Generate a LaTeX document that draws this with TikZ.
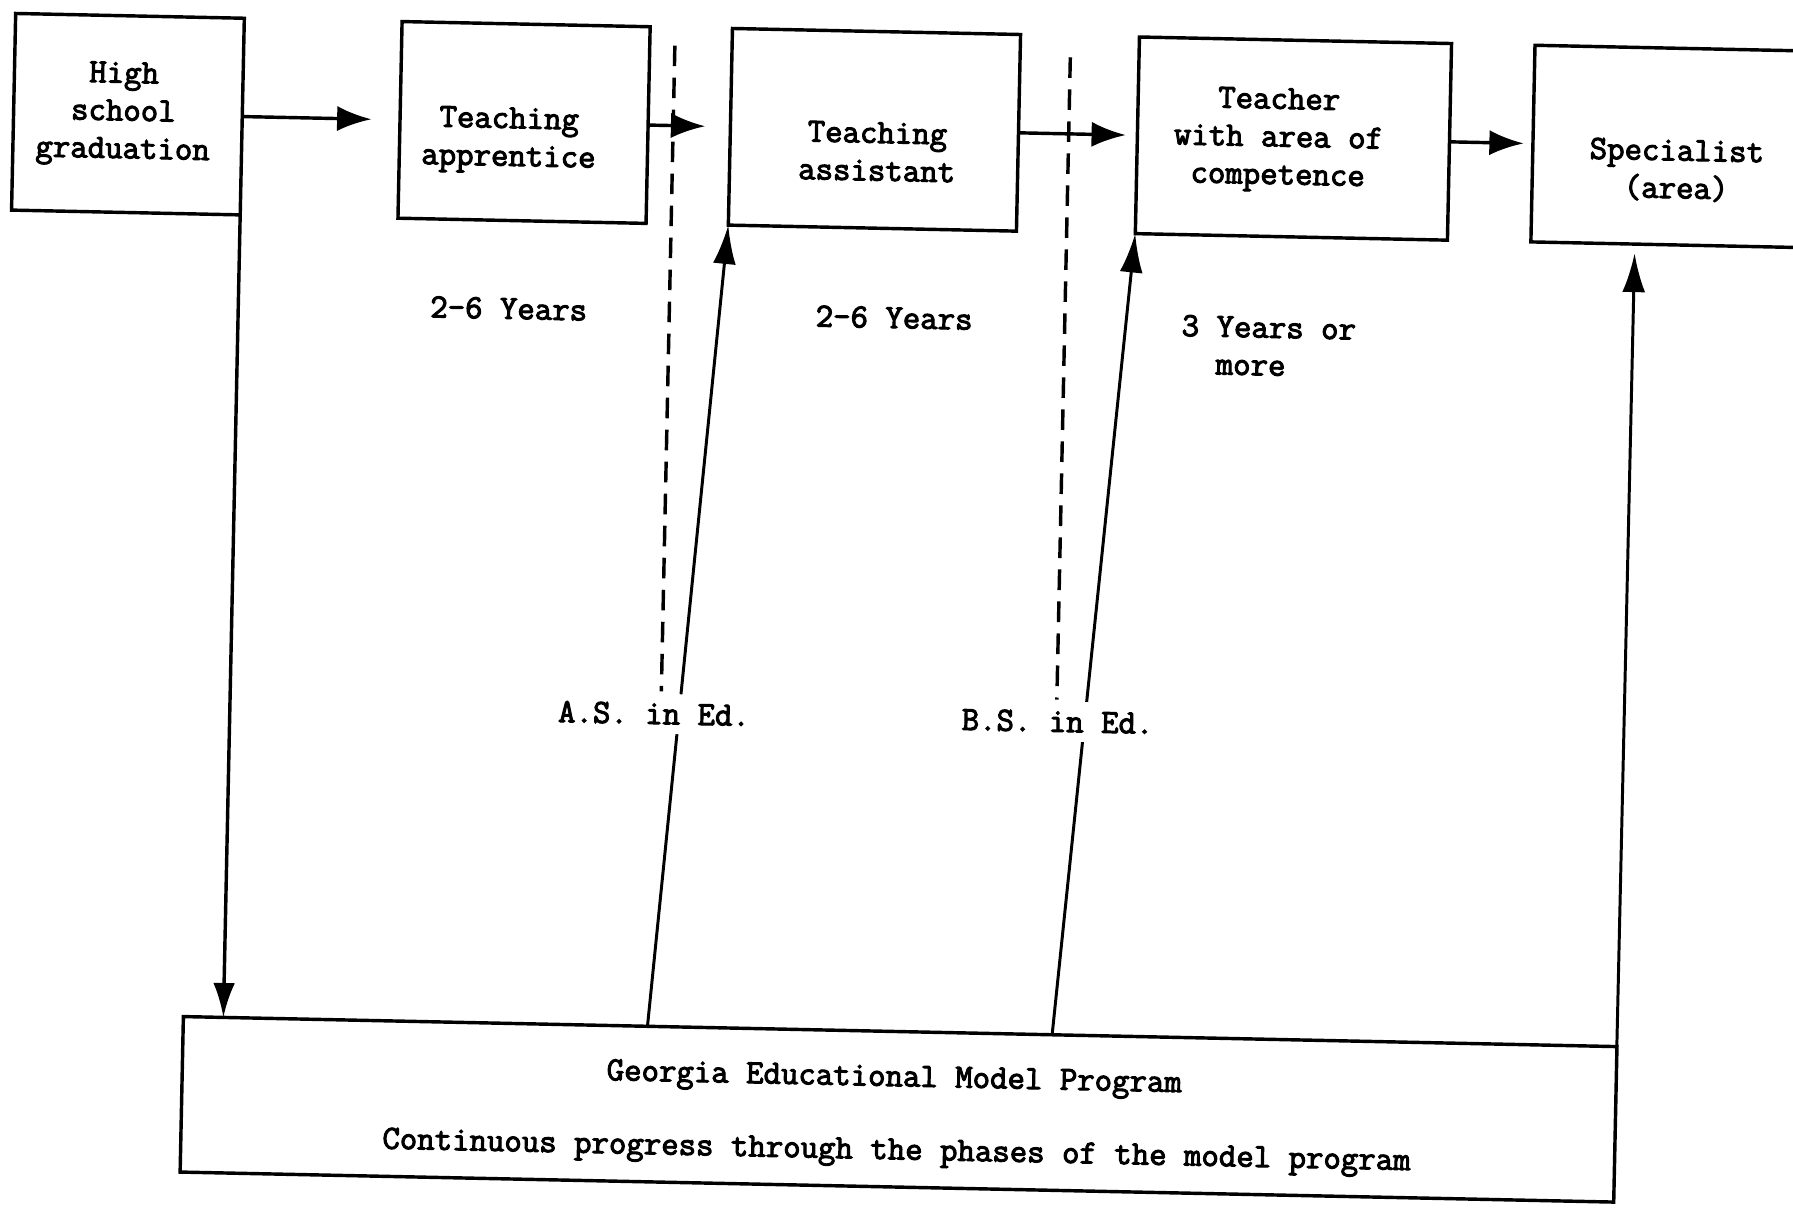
\documentclass[tikz,border=0pt]{standalone}
\usepackage{fontspec}
\newfontfamily\typer[FakeBold=3]{Latin Modern Mono}
\usetikzlibrary{arrows.meta}
\begin{document}
\begin{tikzpicture}[x=1pt,y=-1pt,
  box/.style={draw, line width=3pt, inner sep=0pt, outer sep=0pt, minimum height=172pt},
  txt/.style={font=\typer\fontsize{29.6}{33}\selectfont, align=center, inner sep=0pt},
  degree/.style={txt, fill=white, inner sep=8pt},
  flow/.style={line width=3pt, -{Latex[length=30pt,width=22pt]}},
  rise/.style={line width=2.6pt, -{Latex[length=34pt,width=20pt]}},
  divider/.style={line width=3pt, dash pattern=on 18pt off 10pt},
]
\useasboundingbox (0,0) rectangle (1568,1059);
\fill[white] (0,0) rectangle (1568,1059);
\clip (0,0) rectangle (1568,1059);
\begin{scope}[rotate around={-1.2:(784,530)}, transform shape]
  % career stages
  \node[box, minimum width=200pt] (hs)   at (103,114)    {};
  \node[box, minimum width=217pt] (appr) at (449.5,114)  {};
  \node[box, minimum width=252pt] (asst) at (756,114)    {};
  \node[box, minimum width=273pt] (tch)  at (1122.5,114) {};
  \node[box, minimum width=300pt] (spec) at (1482,114)   {};
  % model program
  \node[box, minimum width=1254pt, minimum height=136pt] (prog) at (795,970) {};

  % stage texts
  \node[txt] (hsT)   at (99,114)    {High\\school\\graduation};
  \node[txt] (apprT) at (436.5,130) {Teaching\\apprentice};
  \node[txt] (asstT) at (758.7,133) {Teaching\\assistant};
  \node[txt] (tchT)  at (1109.4,115.5) {Teacher\\with area of\\competence};
  \node[txt] (specT) at (1458,134.7) {Specialist\\(area)};
  \node[txt] (progA) at (790.7,944) {Georgia Educational Model Program};
  \node[txt] (progB) at (794,1008)  {Continuous progress through the phases of the model program};

  % durations
  \node[txt] (yrs1) at (439.5,277) {2-6 Years};
  \node[txt] (yrs2) at (776.7,278) {2-6 Years};
  \node[txt, align=left] (yrs3) at (1104.5,296) {3 Years or\\\hphantom{3 }more};

  % end points on the program box and above it
  \coordinate (hsfoot) at (203,902);
  \coordinate (asfoot) at (574,902);
  \coordinate (bsfoot) at (928,902);
  \coordinate (sptop)  at (1423,208);
  \coordinate (d1a) at (580,44);
  \coordinate (d1b) at (580,609);
  \coordinate (d2a) at (926,47);
  \coordinate (d2b) at (926,609);

  % degree boundaries
  \draw[divider] (d1a) -- (d1b);
  \draw[divider] (d2a) -- (d2b);

  % stage progression
  \draw[flow, shorten >=25pt] (hs.east)   -- (appr.west);
  \draw[flow, shorten >=22pt] (appr.east) -- (asst.west);
  \draw[flow, shorten >=10pt] (asst.east) -- (tch.west);
  \draw[flow, shorten >=8pt]  (tch.east)  -- (spec.west);

  % into and out of the model program
  \draw[flow, -{Latex[length=30pt,width=19pt]}] (hs.south east) -- (hsfoot);
  \draw[rise] (asfoot) -- (asst.south west);
  \draw[rise] (bsfoot) -- (tch.south west);
  \draw[rise] (prog.north east) -- (sptop);

  % degrees
  \node[degree] (as) at (574,628.5) {A.S. in Ed.};
  \node[degree] (bs) at (927,628)   {B.S. in Ed.};
\end{scope}
\end{tikzpicture}
\end{document}
